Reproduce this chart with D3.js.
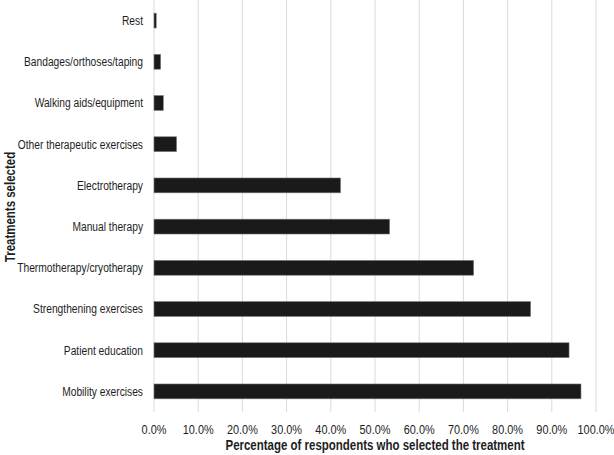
<!DOCTYPE html>
<html>
<head>
<meta charset="utf-8">
<script src="https://cdn.jsdelivr.net/npm/d3@7"></script>
<style>
  body { margin: 0; background: #fff; }
  text { font-family: "Liberation Sans", Arial, sans-serif; fill: #1e1e1e; }
</style>
</head>
<body>
<svg id="chart" width="614" height="455"></svg>
<script>
const treatments = ['Rest', 'Bandages/orthoses/taping', 'Walking aids/equipment', 'Other therapeutic exercises',
  'Electrotherapy', 'Manual therapy', 'Thermotherapy/cryotherapy', 'Strengthening exercises',
  'Patient education', 'Mobility exercises'];
const percents = [0.5, 1.5, 2.1, 5.1, 42.2, 53.3, 72.3, 85.2, 93.9, 96.6];
const xTicks = [0, 10, 20, 30, 40, 50, 60, 70, 80, 90, 100];

const data = treatments.map((t, i) => ({ name: t, value: percents[i] }));

const margin = { top: 0, right: 18, bottom: 43, left: 154 };
const width = 614, height = 455;
const narrow = 0.82; // squeeze Liberation Sans to look like Arial Narrow

const svg = d3.select('#chart');

const x = d3.scaleLinear().domain([0, 100]).range([margin.left, width - margin.right]);
const y = d3.scaleBand().domain(treatments).range([margin.top, height - margin.bottom])
  .paddingInner(0.64).paddingOuter(0.32);

// gridlines
svg.append('g').selectAll('line').data(xTicks).join('line')
  .attr('x1', d => x(d)).attr('x2', d => x(d))
  .attr('y1', margin.top).attr('y2', height - margin.bottom)
  .attr('stroke', '#d9d9d9').attr('stroke-width', 1);

// bars
svg.append('g').selectAll('rect').data(data).join('rect')
  .attr('x', x(0))
  .attr('y', d => y(d.name))
  .attr('width', d => x(d.value) - x(0))
  .attr('height', y.bandwidth())
  .attr('fill', '#1a1a1a')
  .attr('stroke', '#777').attr('stroke-width', 0.6);

// x tick labels
svg.append('g').selectAll('text').data(xTicks).join('text')
  .attr('transform', d => `translate(${x(d)},434) scale(0.84,1)`)
  .attr('text-anchor', 'middle')
  .style('font-size', '13px')
  .text(d => d3.format('.1f')(d) + '%');

// category labels
svg.append('g').selectAll('text').data(treatments).join('text')
  .attr('transform', d => `translate(143,${y(d) + y.bandwidth() / 2}) scale(${narrow},1)`)
  .attr('dy', '0.35em')
  .attr('text-anchor', 'end')
  .style('font-size', '12.5px')
  .text(d => d);

// axis titles
svg.append('text')
  .attr('transform', `translate(375,450) scale(${narrow},1)`)
  .attr('text-anchor', 'middle')
  .style('font-size', '14px').style('font-weight', 'bold')
  .text('Percentage of respondents who selected the treatment');

svg.append('text')
  .attr('transform', `translate(15,207) rotate(-90) scale(${narrow},1)`)
  .attr('text-anchor', 'middle')
  .style('font-size', '14px').style('font-weight', 'bold')
  .text('Treatments selected');
</script>
</body>
</html>
